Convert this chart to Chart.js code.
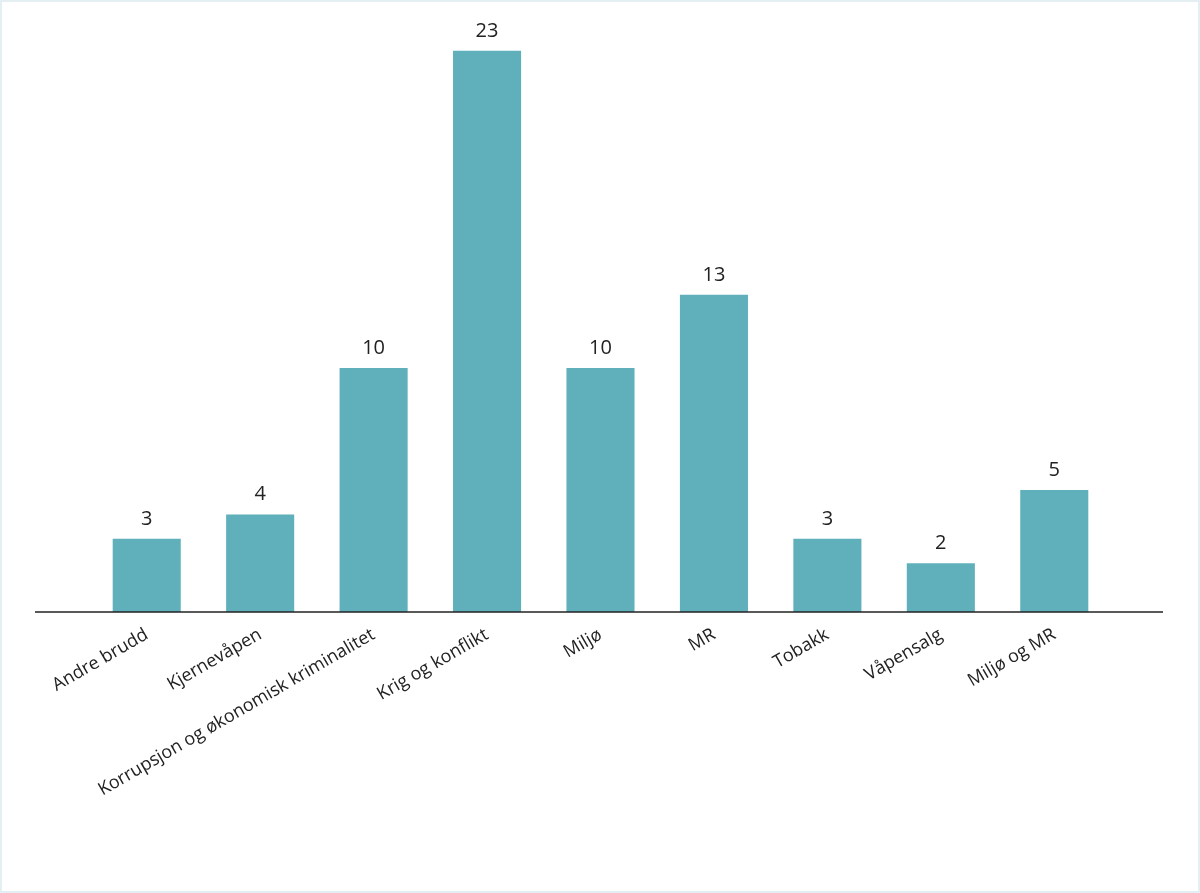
<!DOCTYPE html>
<html lang="no">
<head>
<meta charset="UTF-8">
<script src="https://cdn.jsdelivr.net/npm/chart.js"></script>
<style>
  html, body { margin: 0; padding: 0; background: #fff; }
  .wrap { position: relative; width: 1196px; height: 889px; border: 2px solid #e3eff3; }
</style>
</head>
<body>
<div class="wrap"><canvas id="chart"></canvas></div>
<script>
const categories = ['Andre brudd', 'Kjernevåpen', 'Korrupsjon og økonomisk kriminalitet', 'Krig og konflikt', 'Miljø', 'MR', 'Tobakk', 'Våpensalg', 'Miljø og MR'];
const counts = [3, 4, 10, 23, 10, 13, 3, 2, 5];

const baseline = {
  id: 'baseline',
  afterDatasetsDraw(chart) {
    const ctx = chart.ctx, y = chart.scales.y.getPixelForValue(0);
    ctx.save();
    ctx.strokeStyle = '#222';
    ctx.lineWidth = 1.5;
    ctx.beginPath(); ctx.moveTo(33, y); ctx.lineTo(1161, y); ctx.stroke();
    // values over bars
    ctx.fillStyle = '#222';
    ctx.font = '20px "Open Sans"';
    ctx.textAlign = 'center';
    ctx.textBaseline = 'bottom';
    chart.getDatasetMeta(0).data.forEach((bar, i) => {
      ctx.fillText(counts[i], bar.x, bar.y - 10);
    });
    ctx.restore();
  }
};

new Chart(document.getElementById('chart'), {
  type: 'bar',
  data: {
    labels: categories,
    datasets: [{ data: counts, backgroundColor: '#5fb0ba', barPercentage: 0.6, categoryPercentage: 1 }]
  },
  options: {
    responsive: true,
    maintainAspectRatio: false,
    animation: false,
    layout: { padding: { left: 88, right: 87, top: 0, bottom: 0 } },
    plugins: { legend: { display: false }, tooltip: { enabled: false } },
    scales: {
      y: { display: false, min: 0, max: 25 },
      x: {
        grid: { display: false },
        border: { display: false },
        ticks: { color: '#222', font: { family: 'Open Sans', size: 18 }, minRotation: 30, maxRotation: 30, padding: 4 },
        afterFit(scale) { scale.height = 279; }
      }
    }
  },
  plugins: [baseline]
});
</script>
</body>
</html>
